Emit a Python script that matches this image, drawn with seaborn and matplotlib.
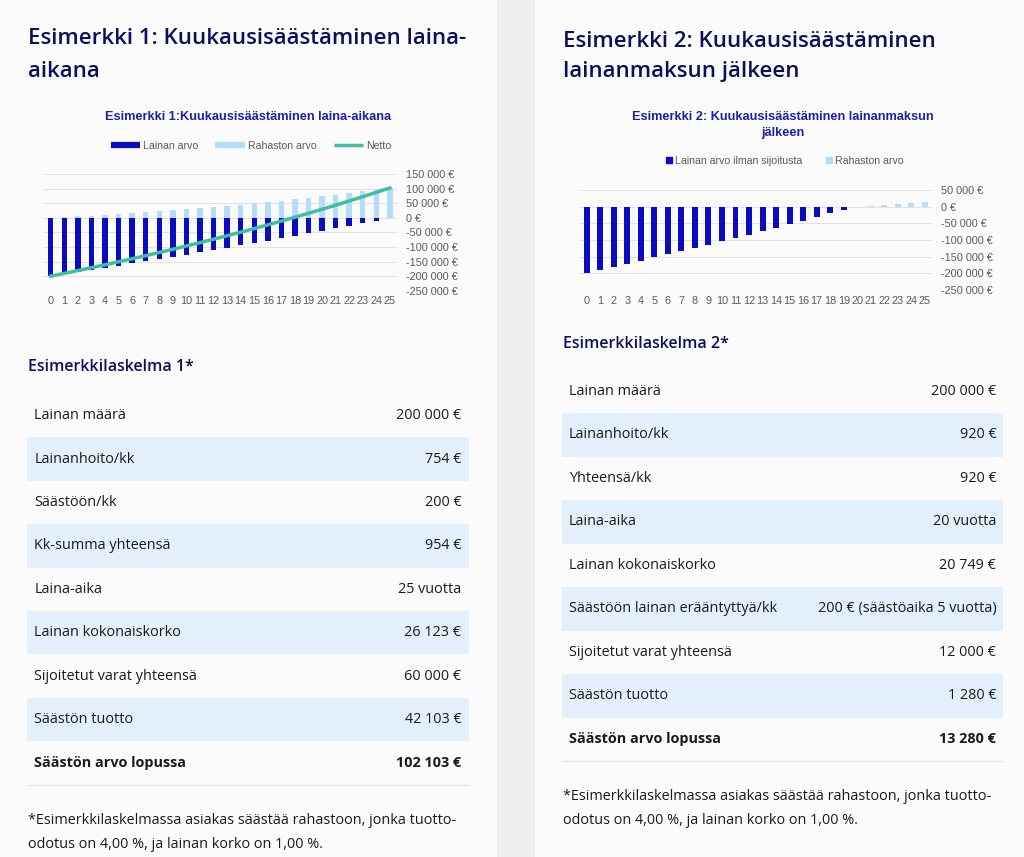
import numpy as np
import pandas as pd
import matplotlib.pyplot as plt
import seaborn as sns
from matplotlib.lines import Line2D
from matplotlib.patches import Rectangle

# --- data -------------------------------------------------------------
years = list(range(26))

laina1 = [-200000, -193000, -185900, -178700, -171400, -164000, -156600, -149100, -141600,
          -133900, -126200, -118400, -110500, -102600, -94600, -86500, -78300, -70000,
          -61700, -53300, -44800, -36200, -27500, -18700, -9900, 0]
rahasto1 = [0, 2400, 4900, 7500, 10200, 13100, 16100, 19200, 22500, 25900, 29500, 33200,
            37000, 41000, 45200, 49500, 54000, 58700, 63600, 68700, 73900, 79400, 85100,
            91000, 97100, 102100]
netto1 = [-200000, -190600, -181000, -171200, -161200, -150900, -140500, -129900, -119100,
          -108000, -96700, -85200, -73500, -61600, -49400, -37000, -24300, -11300, 1900,
          15400, 29100, 43200, 57600, 72300, 87200, 102100]

laina2 = [-200000, -190000, -180500, -171500, -162000, -152500, -143500, -133500, -124000,
          -114000, -104000, -94000, -84000, -73500, -63000, -52500, -42500, -31500, -20500,
          -10000, 0, 0, 0, 0, 0, 0]
rahasto2 = [0] * 20 + [0, 2500, 5000, 7600, 10400, 13300]

rivit1 = ['Lainan määrä', 'Lainanhoito/kk', 'Säästöön/kk', 'Kk-summa yhteensä', 'Laina-aika',
          'Lainan kokonaiskorko', 'Sijoitetut varat yhteensä', 'Säästön tuotto',
          'Säästön arvo lopussa']
arvot1 = ['200 000 €', '754 €', '200 €', '954 €', '25 vuotta', '26 123 €', '60 000 €',
          '42 103 €', '102 103 €']

rivit2 = ['Lainan määrä', 'Lainanhoito/kk', 'Yhteensä/kk', 'Laina-aika', 'Lainan kokonaiskorko',
          'Säästöön lainan erääntyttyä/kk', 'Sijoitetut varat yhteensä', 'Säästön tuotto',
          'Säästön arvo lopussa']
arvot2 = ['200 000 €', '920 €', '920 €', '20 vuotta', '20 749 €', '200 € (säästöaika 5 vuotta)',
          '12 000 €', '1 280 €', '13 280 €']

# --- style ------------------------------------------------------------
NAVY = '#0e0e5c'
CHART_TITLE = '#1f1fa6'
DARK = '#0b0bbf'
LIGHT = '#b5dcfb'
TEAL = '#3fbf9d'
GREY = '#595959'
STRIPE = '#e3f0fb'
WEB = 'Open Sans'
XL = 'Liberation Sans'

W, H = 1024, 857
fig = plt.figure(figsize=(W / 100, H / 100), dpi=100)
fig.patch.set_facecolor('#fbfbfb')


def fx(x):
    return x / W


def fy(y):
    return 1 - y / H


def rect(x0, y0, x1, y1, color):
    fig.patches.append(Rectangle((fx(x0), fy(y1)), (x1 - x0) / W, (y1 - y0) / H,
                                 transform=fig.transFigure, color=color, zorder=0, lw=0))


def txt(x, y, s, **kw):
    kw.setdefault('family', WEB)
    kw.setdefault('va', 'center')
    fig.text(fx(x), fy(y), s, **kw)


def euro(v):
    s = f'{abs(v):,}'.replace(',', ' ') + ' €'
    return '-' + s if v < 0 else s


# background: two panels with a grey gap
rect(497, 0, 535, H, '#f0efed')

# --- charts -----------------------------------------------------------
def chart(x0, x1, ytop, ybot, lo, hi, bars, colors, width):
    ax = fig.add_axes([fx(x0), fy(ybot), (x1 - x0) / W, (ybot - ytop) / H])
    ax.set_facecolor('none')
    df = pd.DataFrame({'vuosi': years * len(bars),
                       'arvo': sum([b[1] for b in bars], []),
                       'sarja': sum([[b[0]] * len(years) for b in bars], [])})
    sns.barplot(data=df, x='vuosi', y='arvo', hue='sarja', hue_order=[b[0] for b in bars],
                palette=colors, dodge=False, width=width, saturation=1, legend=False, ax=ax)
    ax.set_xlim(-0.5, 25.5)
    ax.set_ylim(lo, hi)
    ticks = np.arange(lo, hi + 1, 50000)
    ax.set_yticks(ticks)
    ax.set_yticklabels([euro(int(t)) for t in ticks], family=XL, fontsize=7.8, color=GREY)
    ax.set_xticks(years)
    ax.set_xticklabels([str(v) for v in years], family=XL, fontsize=7.8, color=GREY)
    ax.yaxis.tick_right()
    ax.tick_params(axis='y', length=0, pad=7)
    ax.tick_params(axis='x', length=0, pad=4)
    ax.set_xlabel('')
    ax.set_ylabel('')
    for sp in ax.spines.values():
        sp.set_visible(False)
    ax.set_axisbelow(True)
    ax.yaxis.grid(True, color='#e3e3e3', lw=0.8)
    return ax


ax1 = chart(43.9, 396.7, 174, 290.7, -250000, 150000,
            [('Lainan arvo', laina1), ('Rahaston arvo', rahasto1)], [DARK, LIGHT], 0.4)
sns.lineplot(x=years, y=netto1, color=TEAL, lw=2.5, ax=ax1, legend=False)
ax1.set_xlim(-0.5, 25.5)

ax2 = chart(579.9, 931.7, 190, 290, -250000, 50000,
            [('Lainan arvo ilman sijoitusta', laina2), ('Rahaston arvo', rahasto2)],
            [DARK, LIGHT], 0.44)

# chart titles
TS = 9.2
txt(248.3, 117, 'Esimerkki 1:Kuukausisäästäminen laina-aikana', ha='center', family=XL,
    fontsize=TS, fontweight='bold', color=CHART_TITLE)
txt(782.7, 117.3, 'Esimerkki 2: Kuukausisäästäminen lainanmaksun', ha='center', family=XL,
    fontsize=TS, fontweight='bold', color=CHART_TITLE)
txt(782.7, 133.3, 'jälkeen', ha='center', family=XL, fontsize=TS, fontweight='bold',
    color=CHART_TITLE)

# legends
h1 = [Line2D([], [], color=DARK, lw=4.5, solid_capstyle='butt'),
      Line2D([], [], color=LIGHT, lw=4.5, solid_capstyle='butt'),
      Line2D([], [], color=TEAL, lw=2.5, solid_capstyle='butt')]
fig.legend(h1, ['Lainan arvo', 'Rahaston arvo', 'Netto'], loc='center',
           bbox_to_anchor=(fx(251), fy(146)), ncol=3, frameon=False,
           prop={'family': XL, 'size': 7.6}, labelcolor=GREY, handlelength=2.8,
           handletextpad=0.3, columnspacing=1.6, borderpad=0)
h2 = [Line2D([], [], color=DARK, marker='s', ms=4, lw=0),
      Line2D([], [], color=LIGHT, marker='s', ms=4, lw=0)]
fig.legend(h2, ['Lainan arvo ilman sijoitusta', 'Rahaston arvo'], loc='center',
           bbox_to_anchor=(fx(785), fy(161)), ncol=2, frameon=False,
           prop={'family': XL, 'size': 7.6}, labelcolor=GREY, handlelength=0.6,
           handletextpad=0.3, columnspacing=2.2, borderpad=0)

# --- headings ---------------------------------------------------------
HS = 16
txt(28, 44.5, 'Esimerkki 1: Kuukausisäästäminen laina-', va='baseline', fontsize=HS,
    fontweight='semibold', color=NAVY)
txt(28, 76.7, 'aikana', va='baseline', fontsize=HS, fontweight='semibold', color=NAVY)
txt(563, 46.7, 'Esimerkki 2: Kuukausisäästäminen', va='baseline', fontsize=HS,
    fontweight='semibold', color=NAVY)
txt(563, 77.3, 'lainanmaksun jälkeen', va='baseline', fontsize=HS, fontweight='semibold',
    color=NAVY)

txt(28, 367, 'Esimerkkilaskelma 1*', fontsize=11.5, fontweight='semibold', color=NAVY)
txt(563, 343.5, 'Esimerkkilaskelma 2*', fontsize=11.5, fontweight='semibold', color=NAVY)

BS = 10.4


# --- tables -----------------------------------------------------------
def table(x0, x1, y0, step, labels, values):
    for i, (lab, val) in enumerate(zip(labels, values)):
        cy = y0 + i * step
        if i % 2 == 1:
            rect(x0, cy - step / 2, x1, cy + step / 2, STRIPE)
        w = 'bold' if i == len(labels) - 1 else 'normal'
        txt(x0 + 7, cy, lab, fontsize=BS, color='#1a1a1a', fontweight=w)
        txt(x1 - 7, cy, val, ha='right', fontsize=BS, color='#1a1a1a', fontweight=w)
    yb = y0 + (len(labels) - 0.5) * step
    fig.add_artist(Line2D([fx(x0), fx(x1)], [fy(yb), fy(yb)], color='#e8e8e8', lw=1,
                          transform=fig.transFigure))


table(27.3, 468.5, 415.7, 43.4, rivit1, arvot1)
table(561.7, 1003.3, 391.3, 43.5, rivit2, arvot2)

# footnotes
for x, y in [(28, 821), (563, 797)]:
    txt(x, y, '*Esimerkkilaskelmassa asiakas säästää rahastoon, jonka tuotto-',
        fontsize=BS, color='#1a1a1a')
    txt(x, y + 24, 'odotus on 4,00 %, ja lainan korko on 1,00 %.', fontsize=BS,
        color='#1a1a1a')

fig.savefig('out.png', dpi=100, facecolor=fig.get_facecolor())
